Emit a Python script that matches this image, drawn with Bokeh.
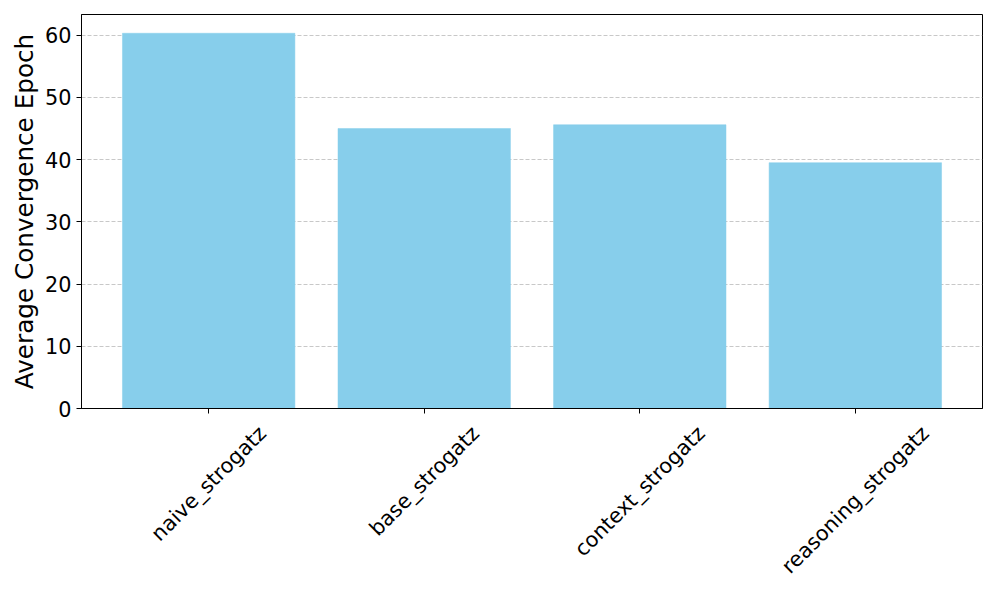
import math
from bokeh.plotting import figure
from bokeh.layouts import column
from bokeh.models import Range1d, FixedTicker, ColumnDataSource
from bokeh.embed import file_html
from bokeh.resources import INLINE

categories = ["naive_strogatz", "base_strogatz", "context_strogatz", "reasoning_strogatz"]
values = [60.3, 45.0, 45.6, 39.5]
y_ticks = [0, 10, 20, 30, 40, 50, 60]

FONT = "DejaVu Sans"
TICK_PX = 20.8
W = 996
BL, BR, BT, BB = 81, 14, 14, 12
FRAME_H = 394
H1 = BT + FRAME_H + BB
H2 = 596 - H1

xs = list(range(len(categories)))
ymax = max(values) * 1.05
pad = 0.05 * (len(categories) - 1 + 0.8)
xr = Range1d(-0.4 - pad, len(categories) - 1 + 0.4 + pad)

p = figure(width=W, height=H1, output_backend="svg", toolbar_location=None,
           x_range=xr, y_range=Range1d(0, ymax),
           min_border_left=BL, min_border_right=BR, min_border_top=BT, min_border_bottom=BB)

src = ColumnDataSource(dict(x=xs, top=values))
p.vbar(x="x", top="top", width=0.8, bottom=0, source=src,
       fill_color="#87CEEB", line_color="#87CEEB", line_width=0.5)

p.outline_line_color = "black"
p.outline_line_width = 1
p.background_fill_color = "white"
p.border_fill_color = "white"

p.xgrid.grid_line_color = None
p.ygrid.ticker = FixedTicker(ticks=y_ticks)
p.ygrid.grid_line_color = "#b0b0b0"
p.ygrid.grid_line_alpha = 0.7
p.ygrid.grid_line_dash = "4 2"
p.ygrid.grid_line_width = 1

ya = p.yaxis[0]
ya.ticker = FixedTicker(ticks=y_ticks)
ya.axis_line_color = "black"
ya.major_tick_line_color = "black"
ya.major_tick_out = 5
ya.major_tick_in = 0
ya.minor_tick_line_color = None
ya.major_label_text_font = FONT
ya.major_label_text_font_size = f"{TICK_PX}px"
ya.major_label_text_color = "black"
ya.major_label_standoff = 5
ya.axis_label = "Average Convergence Epoch"
ya.axis_label_text_font = FONT
ya.axis_label_text_font_size = "24.7px"
ya.axis_label_text_font_style = "normal"
ya.axis_label_text_color = "black"
ya.axis_label_standoff = 3

xa = p.xaxis[0]
xa.ticker = FixedTicker(ticks=xs)
xa.major_label_overrides = {i: "" for i in xs}
xa.major_label_text_font_size = "0px"
xa.major_label_standoff = 0
xa.axis_line_color = "black"
xa.major_tick_line_color = "black"
xa.major_tick_out = 5
xa.major_tick_in = 0
xa.minor_tick_line_color = None

# rotated category labels, centred under each tick like matplotlib (ha=center, rotation=45)
adv = {"n": .634, "a": .613, "i": .278, "v": .592, "e": .615, "_": .5, "s": .521,
       "t": .392, "r": .411, "o": .612, "g": .635, "z": .525, "b": .635, "c": .550,
       "x": .592}
c = math.cos(math.pi / 4)
top_gap = max(0.5, 9.7 - BB)
label_y = []
for name in categories:
    L = sum(adv.get(ch, 0.6) for ch in name) * TICK_PX
    Hh = 1.164 * TICK_PX
    label_y.append(H2 - (top_gap + (L + Hh) * c / 2))

q = figure(width=W, height=H2, output_backend="svg", toolbar_location=None,
           x_range=xr, y_range=Range1d(0, H2),
           x_axis_location=None, y_axis_location=None,
           min_border_left=BL, min_border_right=BR, min_border_top=0, min_border_bottom=0)
q.outline_line_color = None
q.xgrid.grid_line_color = None
q.ygrid.grid_line_color = None
q.background_fill_color = "white"
q.border_fill_color = "white"
lsrc = ColumnDataSource(dict(x=xs, y=label_y, text=categories))
q.text(x="x", y="y", text="text", source=lsrc, angle=math.pi / 4,
       text_align="center", text_baseline="middle",
       text_font={"value": FONT}, text_font_size={"value": f"{TICK_PX}px"},
       text_color="black")

layout = column(p, q, spacing=0)
open("out.html", "w").write(file_html(layout, INLINE))
